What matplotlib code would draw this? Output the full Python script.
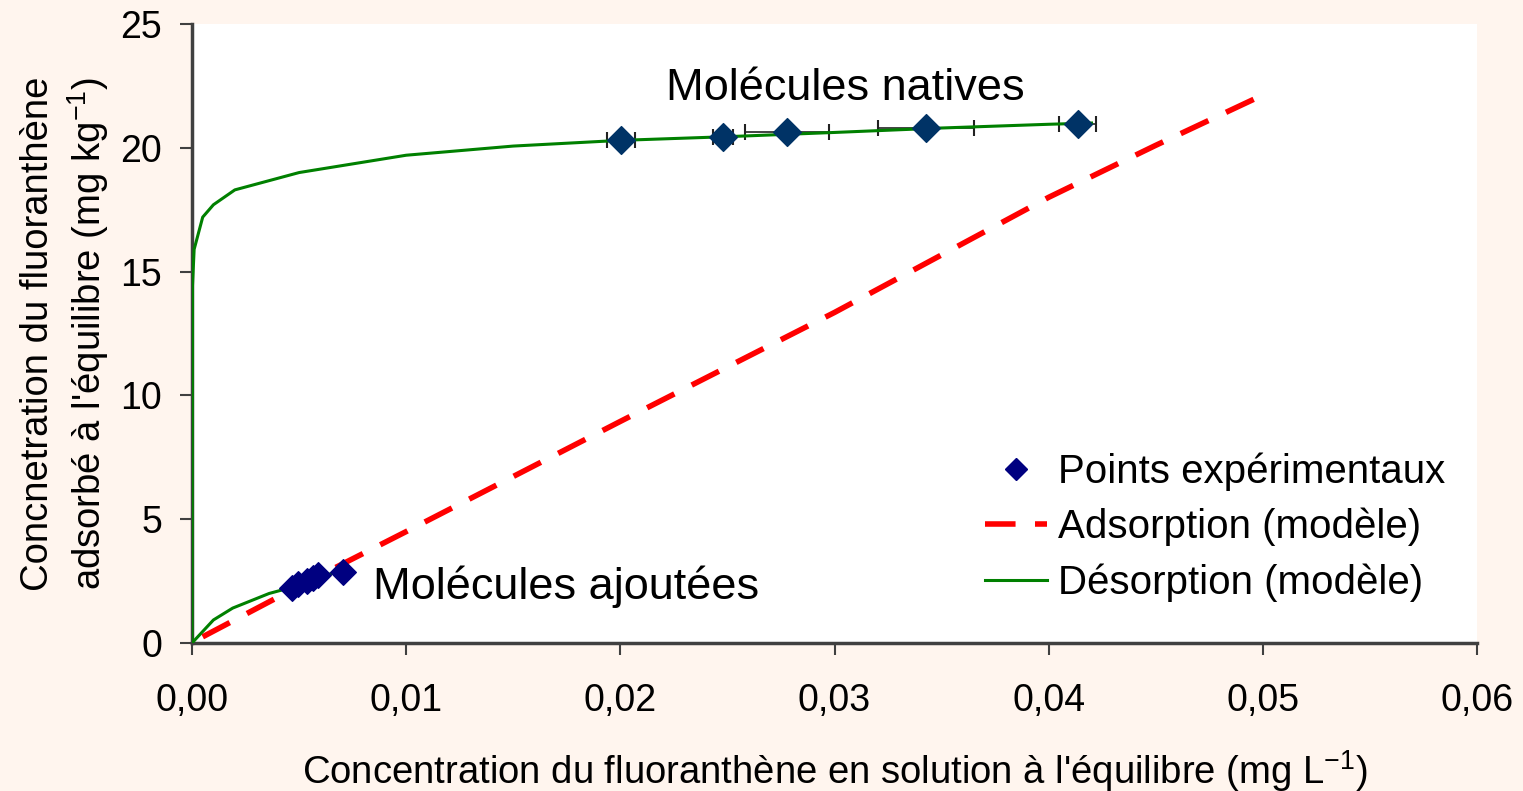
import matplotlib
matplotlib.use("Agg")
import matplotlib.pyplot as plt
from matplotlib.lines import Line2D

plt.rcParams['font.family'] = ['Liberation Sans', 'DejaVu Sans']
plt.rcParams['mathtext.fontset'] = 'custom'
plt.rcParams['mathtext.rm'] = 'Liberation Sans'
plt.rcParams['mathtext.it'] = 'Liberation Sans'

# points experimentaux - molecules ajoutees
x_ajout = [0.00467, 0.00495, 0.00537, 0.00565, 0.00588, 0.00705]
y_ajout = [2.22, 2.38, 2.50, 2.62, 2.75, 2.87]

# points experimentaux - molecules natives
x_nat = [0.02003, 0.0248, 0.02778, 0.03427, 0.04136]
y_nat = [20.32, 20.44, 20.64, 20.80, 20.96]
xerr_nat = [0.00065, 0.00047, 0.00196, 0.00224, 0.00086]

# adsorption (modele)
x_ads = [0.0005, 0.005, 0.01, 0.02, 0.03, 0.04, 0.045, 0.0498]
y_ads = [0.25, 2.3, 4.5, 8.95, 13.35, 18.0, 20.1, 22.05]

# desorption (modele) - native
x_des1 = [0.0, 0.00002, 0.0001, 0.0005, 0.001, 0.002, 0.005, 0.01, 0.015,
          0.02, 0.025, 0.03, 0.035, 0.04, 0.042]
y_des1 = [0.0, 14.4, 15.9, 17.2, 17.7, 18.3, 19.0, 19.7, 20.07,
          20.3, 20.45, 20.62, 20.8, 20.95, 21.0]
# desorption (modele) - ajoutees
x_des2 = [0.0, 0.001, 0.0019, 0.0036, 0.0042, 0.0055, 0.0065]
y_des2 = [0.0, 0.93, 1.41, 2.0, 2.14, 2.6, 2.8]

bg = '#fff5ee'
fig = plt.figure(figsize=(15.23, 7.91), dpi=100, facecolor=bg)
ax = fig.add_axes([192/1523, 1 - 643/791, (1477-192)/1523, (643-24)/791])
ax.set_facecolor('white')

ax.plot(x_ads, y_ads, color='#ff0000', lw=4, dashes=(5.5, 3.5), zorder=2)
ax.plot(x_des1, y_des1, color='#008000', lw=2.2, zorder=3)
ax.plot(x_des2, y_des2, color='#008000', lw=2.2, zorder=3)
ax.errorbar(x_nat, y_nat, xerr=xerr_nat, fmt='none', ecolor='#222222',
            elinewidth=1.2, capsize=6, capthick=1.5, zorder=2.5)
ax.scatter(x_nat, y_nat, marker='D', s=200, color='#003366', zorder=4)
ax.scatter(x_ajout, y_ajout, marker='D', s=170, color='#000080', zorder=4)

ax.set_xlim(0, 0.06)
ax.set_ylim(0, 25)
ax.set_xticks([0, 0.01, 0.02, 0.03, 0.04, 0.05, 0.06])
ax.set_xticklabels(['0,00', '0,01', '0,02', '0,03', '0,04', '0,05', '0,06'])
ax.set_yticks([0, 5, 10, 15, 20, 25])
for s in ['top', 'right']:
    ax.spines[s].set_visible(False)
for s in ['left', 'bottom']:
    ax.spines[s].set_color('#404040')
    ax.spines[s].set_linewidth(2.5)
ax.tick_params(axis='both', direction='out', length=8.6, width=1.5,
               color='#404040', labelsize=27)
ax.tick_params(axis='x', pad=20)
ax.tick_params(axis='y', pad=13)

ax.set_xlabel("Concentration du fluoranthène en solution à l'équilibre (mg L$^{-1}$)",
              fontsize=27.5, labelpad=21)
ax.set_ylabel("Concnetration du fluoranthène\nadsorbé à l'équilibre (mg kg$^{-1}$)",
              fontsize=27.5, labelpad=7, linespacing=1.25)

ax.text(0.0305, 22.4, 'Molécules natives', fontsize=32.5, ha='center', va='center')
ax.text(0.00845, 2.26, 'Molécules ajoutées', fontsize=32.5, ha='left', va='center')

handles = [
    Line2D([], [], marker='D', color='#000080', ls='none', markersize=11),
    Line2D([], [], color='#ff0000', lw=4, dashes=(5.5, 3.5)),
    Line2D([], [], color='#008000', lw=2.2),
]
labels = ['Points expérimentaux', 'Adsorption (modèle)', 'Désorption (modèle)']
ax.legend(handles, labels, loc='center left', bbox_to_anchor=(0.617, 0.187),
          frameon=False, fontsize=29, handlelength=1.55, labelspacing=0.42,
          handletextpad=0.27, borderpad=0, borderaxespad=0)

fig.savefig('out.png', dpi=100, facecolor=bg)
